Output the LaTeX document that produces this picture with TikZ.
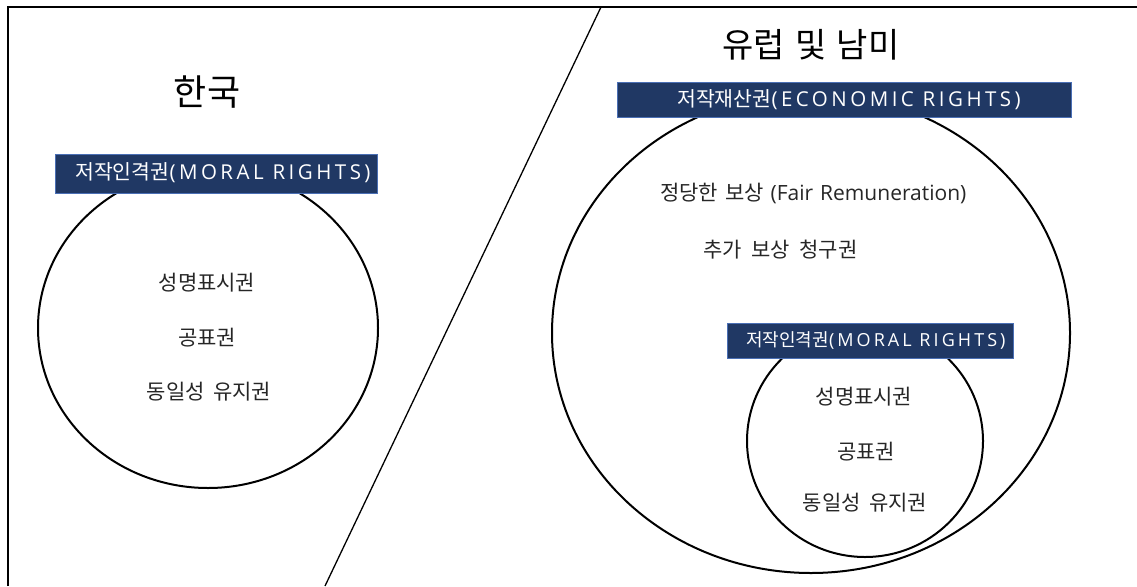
\documentclass[tikz,border=0pt]{standalone}
\usepackage{fontspec}
\setmainfont{Noto Sans CJK KR}
\newfontfamily\latwide{Open Sans}[LetterSpace=17]
\newfontfamily\latbody{Open Sans}
\newcommand\widegap[1]{\spaceskip=#1\relax}
\usetikzlibrary{shapes.geometric}
\definecolor{navy}{HTML}{203864}
\definecolor{navyedge}{HTML}{4A6FB5}
\tikzset{
  ring/.style={draw=black, line width=2pt, ellipse, inner sep=0pt},
  banner/.style={draw=navyedge, line width=0.6pt, fill=navy, inner sep=0pt},
  bannertext/.style={text=white, inner sep=0pt, anchor=west},
  item/.style={text=black!85, inner sep=0pt, font=\fontsize{21}{23}\selectfont},
  title/.style={text=black, inner sep=0pt},
}
\begin{document}
\begin{tikzpicture}[x=1pt,y=-1pt]
\useasboundingbox (0,0) rectangle (1137,586);
% frame
\coordinate (tl) at (8,7);
\coordinate (tr) at (1137,7);
\coordinate (bl) at (8,586);
\draw[line width=1.6pt] (bl) -- (tl) -- (tr);
% diagonal divider
\coordinate (dtop) at (601,7);
\coordinate (dbot) at (325,586);
\draw[line width=1.3pt] (dtop) -- (dbot);

% circles
\node[ring, minimum width=340pt, minimum height=320pt] (kc) at (208,328) {};
\node[ring, minimum width=518pt, minimum height=480pt] (ec) at (811,333) {};
\node[ring, minimum width=236pt, minimum height=232pt] (mc) at (865,441) {};

% banners
\node[banner, minimum width=322pt, minimum height=39pt] (kb) at (216,173.5) {};
\node[bannertext, font=\fontsize{20.5}{22}\selectfont] (kbt) at (75,172.5) {저작인격권{\latwide(MORAL RIGHTS)}};
\node[banner, minimum width=454pt, minimum height=35pt] (eb) at (844,99.5) {};
\node[bannertext, font=\fontsize{20.5}{22}\selectfont] (ebt) at (677,99.5) {저작재산권{\latwide(ECONOMIC RIGHTS)}};
\node[banner, minimum width=286pt, minimum height=35pt] (mb) at (870,340.5) {};
\node[bannertext, font=\fontsize{18}{20}\selectfont] (mbt) at (746,340) {저작인격권{\latwide(MORAL RIGHTS)}};

% titles
\node[title, font=\fontsize{36}{40}\selectfont] (kt) at (207,92) {한국};
\node[title, font=\fontsize{34}{37}\selectfont] (et) at (811,45) {\widegap{0.3em}유럽 및 남미};

% left items
\node[item] (k1) at (207,283) {성명표시권};
\node[item] (k2) at (207,338) {공표권};
\node[item] (k3) at (209,392) {\widegap{0.4em}동일성 유지권};

% right items
\node[item, anchor=west] (e1) at (660,193) {\widegap{0.33em}정당한 보상 {\latbody(Fair Remuneration)}};
\node[item, anchor=west] (e2) at (703,250) {\widegap{0.45em}추가 보상 청구권};
\node[item] (m1) at (864,397) {성명표시권};
\node[item] (m2) at (866,452) {공표권};
\node[item] (m3) at (865,503) {\widegap{0.4em}동일성 유지권};
\end{tikzpicture}
\end{document}
